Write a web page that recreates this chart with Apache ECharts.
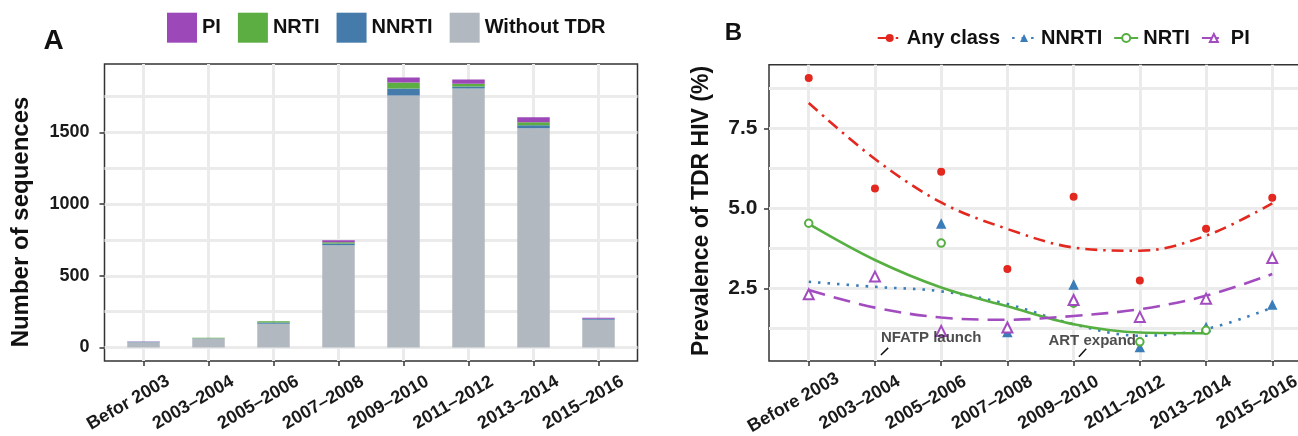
<!DOCTYPE html>
<html><head><meta charset="utf-8">
<script src="https://cdn.jsdelivr.net/npm/echarts@6/dist/echarts.min.js"></script>
<style>html,body{margin:0;padding:0;background:#fff}#c{width:1298px;height:436px}</style>
</head><body><div id="c"></div>
<script>
// ---------- Panel A data ----------
const catsA = ['Befor 2003','2003\u20132004','2005\u20132006','2007\u20132008','2009\u20132010','2011\u20132012','2013\u20132014','2015\u20132016'];
const withoutTDR = [36, 63, 166, 713, 1759, 1807, 1530, 194];
const nnrtiCount = [4, 1, 8, 12, 48, 14, 21, 7];
const nrtiCount  = [1, 4, 9, 9, 42, 19, 21, 0];
const piCount    = [1, 1, 1, 14, 34, 30, 34, 7];
const yTicksA = [0, 500, 1000, 1500];
const yGridA  = [0, 250, 500, 750, 1000, 1250, 1500, 1750];

// ---------- Panel B data ----------
const catsB = ['Before 2003','2003\u20132004','2005\u20132006','2007\u20132008','2009\u20132010','2011\u20132012','2013\u20132014','2015\u20132016'];
const anyPts   = [9.08, 5.63, 6.15, 3.11, 5.37, 2.75, 4.37, 5.34];
const anyFit   = [8.30, 6.55, 5.19, 4.36, 3.78, 3.68, 4.15, 5.16];
const nnrtiPts = [2.32, null, 4.52, 1.12, 2.61, 0.65, 1.28, 1.98];
const nnrtiFit = [2.71, 2.55, 2.41, 2.01, 1.38, 1.02, 1.23, 1.90];
const nrtiPts  = [4.54, null, 3.92, null, 2.04, 0.83, 1.19, null];
const nrtiFit  = [4.52, 3.39, 2.53, 1.94, 1.38, 1.12, 1.10, null];
const piPts    = [2.32, 2.87, 1.17, 1.28, 2.14, 1.61, 2.18, 3.45];
const piFit    = [2.45, 1.90, 1.59, 1.52, 1.64, 1.85, 2.27, 2.95];
const yTicksB = [2.5, 5.0, 7.5];
const yGridB  = [1.25, 2.5, 3.75, 5.0, 6.25, 7.5, 8.75];
const annoText = ['NFATP launch', 'ART expand'];
const annoPos  = [[1.09, 0.96], [3.62, 0.86]];
const annoTick = [[[1.09, 0.42], [1.20, 0.64]], [[4.08, 0.36], [4.19, 0.61]]];

// ---------- styling ----------
const FONT = 'Liberation Sans';
const TXT = {fontFamily: FONT, fontWeight: 'bold', color: '#1a1a1a'};
const GRIDC = '#EBEBEB';
const C = {pi: '#9D48B9', nrti: '#5CAD42', nnrti: '#447BAB', wo: '#B2B8BF',
           red: '#E2281F', blue: '#3B7DB8', green: '#56B041', purple: '#A24CC0'};
const pts = arr => arr.map((v, i) => v == null ? null : [i, v]).filter(p => p);
// value first, category index second (so the value dimension is the stacked one)
const ptsVI = arr => arr.map((v, i) => [v, i]);

function xAxisCfg(gi, cats) {
  const ix = cats.map((c, i) => i);
  return {type: 'value', gridIndex: gi, min: -0.6, max: cats.length - 0.4,
    axisLine: {show: false, onZero: false},
    axisTick: {show: true, length: 5, customValues: ix, lineStyle: {color: '#333', width: 1.5}},
    axisLabel: Object.assign({customValues: ix, formatter: v => cats[Math.round(v)], rotate: 30,
      align: 'center', verticalAlign: 'middle', padding: [0, 35, 0, 0], margin: 33, fontSize: 18}, TXT),
    splitLine: {show: true, lineStyle: {color: GRIDC, width: 3}}};
}
function yLabelAxis(gi, min, max, ticks, fmt, margin, fs) {
  return {type: 'value', gridIndex: gi, min, max, position: 'left',
    axisLine: {show: false, onZero: false},
    axisTick: {show: true, length: 5, customValues: ticks, lineStyle: {color: '#333', width: 1.5}},
    axisLabel: Object.assign({customValues: ticks, formatter: fmt, margin, fontSize: fs}, TXT),
    splitLine: {show: false}};
}
function yGridAxis(gi, min, max, lines) {
  return {type: 'value', gridIndex: gi, min, max, position: 'left',
    axisLine: {show: false, onZero: false},
    axisTick: {show: false, customValues: lines},
    axisLabel: {show: false, customValues: lines},
    splitLine: {show: true, lineStyle: {color: GRIDC, width: 3}}};
}
const barS = (name, data, color) => ({type: 'bar', name, stack: 'a', xAxisIndex: 0, yAxisIndex: 0,
  barWidth: 32.5, data: ptsVI(data), encode: {x: 1, y: 0}, itemStyle: {color}, z: 3});
const fitS = (name, data, color, type, symbol, symbolSize) => ({type: 'line', name, xAxisIndex: 1, yAxisIndex: 2,
  data: pts(data), smooth: 0.35, showSymbol: false, symbol, symbolSize,
  lineStyle: {color, width: 2.6, type, cap: 'butt'}, itemStyle: {color, borderWidth: 1.5}, z: 3});
const ptS = (name, data, color, symbol, size) => ({type: 'scatter', name, xAxisIndex: 1, yAxisIndex: 2,
  data: pts(data), symbol, symbolSize: size, itemStyle: {color, borderColor: color, borderWidth: 1.5, opacity: 1}, z: 4});

const chart = echarts.init(document.getElementById('c'));
const option = {
  animation: false,
  backgroundColor: '#fff',
  grid: [
    {left: 104.5, top: 64, width: 533, height: 297, show: true, borderColor: '#333', borderWidth: 1.5, outerBoundsMode: 'none'},
    {left: 769, top: 64.7, width: 543, height: 296.3, show: true, borderColor: '#333', borderWidth: 1.5, outerBoundsMode: 'none'}
  ],
  xAxis: [xAxisCfg(0, catsA), xAxisCfg(1, catsB)],
  yAxis: [
    yLabelAxis(0, -94, 1978, yTicksA, v => String(v), 15, 18),
    yGridAxis(0, -94, 1978, yGridA),
    yLabelAxis(1, 0.23, 9.5, yTicksB, v => v.toFixed(1), 11.5, 21),
    yGridAxis(1, 0.23, 9.5, yGridB)
  ],
  legend: [
    {data: ['PI', 'NRTI', 'NNRTI', 'Without TDR'], left: 167, top: 12.7, padding: 0, itemGap: 17,
     itemWidth: 30, itemHeight: 30, icon: 'rect', selectedMode: false,
     textStyle: {fontFamily: FONT, fontWeight: 'bold', fontSize: 20, color: '#111'}},
    {data: ['Any class', 'B:NNRTI', 'B:NRTI', 'B:PI'], left: 876.7, top: 28, padding: 0, itemGap: 11,
     itemWidth: 24, itemHeight: 10, selectedMode: false, formatter: n => n.replace('B:', ''),
     textStyle: {fontFamily: FONT, fontWeight: 'bold', fontSize: 20, color: '#111'}}
  ],
  graphic: [
    {type: 'text', x: 43.6, y: 41.7, style: {text: 'A', fontFamily: FONT, fontWeight: 'bold', fontSize: 28, fill: '#111', align: 'left', verticalAlign: 'middle', textAlign: 'left', textVerticalAlign: 'middle'}},
    {type: 'text', x: 724.8, y: 33.4, style: {text: 'B', fontFamily: FONT, fontWeight: 'bold', fontSize: 24, fill: '#111', align: 'left', verticalAlign: 'middle', textAlign: 'left', textVerticalAlign: 'middle'}},
    {type: 'text', x: 21.7, y: 222, rotation: Math.PI / 2, style: {text: 'Number of sequences', fontFamily: FONT, fontWeight: 'bold', fontSize: 24, fill: '#111', align: 'center', verticalAlign: 'middle', textAlign: 'center', textVerticalAlign: 'middle'}},
    {type: 'text', x: 701.7, y: 211, rotation: Math.PI / 2, style: {text: 'Prevalence of TDR HIV (%)', fontFamily: FONT, fontWeight: 'bold', fontSize: 23, fill: '#111', align: 'center', verticalAlign: 'middle', textAlign: 'center', textVerticalAlign: 'middle'}}
  ],
  series: [
    barS('Without TDR', withoutTDR, C.wo),
    barS('NNRTI', nnrtiCount, C.nnrti),
    barS('NRTI', nrtiCount, C.nrti),
    barS('PI', piCount, C.pi),
    fitS('Any class', anyFit, C.red, [12, 6, 2.5, 6], 'circle', 7),
    fitS('B:NNRTI', nnrtiFit, C.blue, [2.5, 7], 'triangle', 8),
    fitS('B:NRTI', nrtiFit, C.green, 'solid', 'emptyCircle', 8),
    fitS('B:PI', piFit, C.purple, [17, 9], 'emptyTriangle', 9),
    ptS('Any class', anyPts, C.red, 'circle', 6.5),
    ptS('B:NNRTI', nnrtiPts, C.blue, 'triangle', 8),
    ptS('B:NRTI', nrtiPts, C.green, 'emptyCircle', 7.5),
    ptS('B:PI', piPts, C.purple, 'emptyTriangle', 10),
    {type: 'scatter', name: 'annotations', xAxisIndex: 1, yAxisIndex: 2, symbolSize: 0, silent: true, z: 5,
     data: annoPos.map((p, i) => ({value: p, name: annoText[i]})),
     label: {show: true, formatter: '{b}', position: 'right', distance: 0, fontFamily: FONT, fontWeight: 'bold', fontSize: 15, color: '#222'},
     markLine: {silent: true, symbol: ['none', 'none'], label: {show: false},
       lineStyle: {color: '#111', width: 1.5, type: 'solid'},
       data: annoTick.map(s => [{coord: s[0]}, {coord: s[1]}])}}
  ]
};
chart.setOption(option);
</script></body></html>
